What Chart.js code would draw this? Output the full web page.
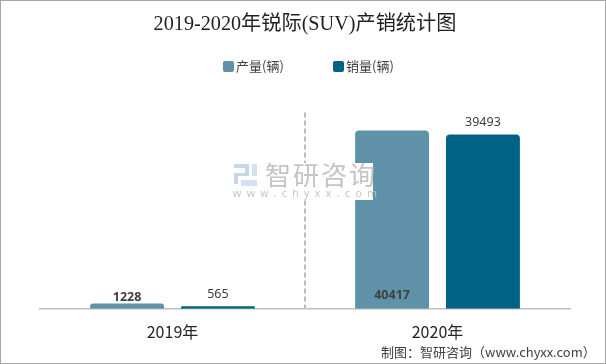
<!DOCTYPE html>
<html>
<head>
<meta charset="utf-8">
<style>
  html, body { margin: 0; padding: 0; background: #fff; }
  canvas { display: block; }
</style>
<script src="https://cdn.jsdelivr.net/npm/chart.js@4/dist/chart.umd.min.js"></script>
</head>
<body>
<canvas id="chart" width="606" height="364"></canvas>
<script>
const categories = ["2019年", "2020年"];
const productionValues = [1228, 40417];
const salesValues = [565, 39493];

const titleText = "2019-2020年锐际(SUV)产销统计图";
const sourceText = "制图：智研咨询（www.chyxx.com）";

const sansFont = "'Noto Sans CJK SC', 'Noto Sans', sans-serif";
const serifFont = "'Liberation Serif', 'Noto Sans CJK SC', serif";

const pagePlugin = {
    id: "pageFrame",
    beforeDraw: function(chart) {
        let ctx = chart.ctx;
        ctx.save();
        ctx.fillStyle = "#fff";
        ctx.fillRect(0, 0, chart.width, chart.height);

        // dashed divider between the two years
        let x = chart.scales.x.getPixelForValue(0.5);
        ctx.strokeStyle = "#a6a6a6";
        ctx.lineWidth = 1.5;
        ctx.setLineDash([5, 3]);
        ctx.beginPath();
        ctx.moveTo(x, chart.scales.y.getPixelForValue(44500));
        ctx.lineTo(x, chart.scales.y.getPixelForValue(0));
        ctx.stroke();
        ctx.restore();
    },
    afterDraw: function(chart) {
        let ctx = chart.ctx;
        ctx.save();
        ctx.strokeStyle = "#a6a6a6";
        ctx.lineWidth = 1;
        ctx.strokeRect(0.5, 0.5, chart.width - 1, chart.height - 1);

        // legend, the native one can't get the box this close to its text
        ctx.textAlign = "left";
        ctx.textBaseline = "middle";
        ctx.font = "13px " + sansFont;
        let legendX = [223, 333];
        chart.data.datasets.forEach(function(dataset, d) {
            ctx.fillStyle = dataset.backgroundColor;
            ctx.beginPath();
            ctx.roundRect(legendX[d], 61, 11, 11, 2);
            ctx.fill();
            ctx.fillStyle = "#404040";
            ctx.fillText(dataset.label, legendX[d] + 13, 66);
        });

        ctx.fillStyle = "#404040";
        ctx.font = "13px " + sansFont;
        ctx.fillText(sourceText, 381, 352);
        ctx.restore();
    }
};

const valueLabelPlugin = {
    id: "valueLabels",
    afterDatasetsDraw: function(chart) {
        let ctx = chart.ctx;
        ctx.save();
        ctx.textAlign = "center";
        ctx.textBaseline = "middle";
        chart.data.datasets.forEach(function(dataset, d) {
            chart.getDatasetMeta(d).data.forEach(function(bar, i) {
                let isProduction = d === 0;
                ctx.font = (isProduction ? "bold " : "") + "12.5px 'Noto Sans', sans-serif";
                ctx.fillStyle = "#404040";
                // the tall production bar has its label sitting inside, near the base
                let inside = isProduction && i === 1;
                let y = inside ? chart.scales.y.getPixelForValue(0) - 13 : bar.y - (isProduction ? 6 : 12);
                ctx.fillText(dataset.data[i], bar.x, y);
            });
        });
        ctx.restore();
    }
};

const watermarkPlugin = {
    id: "watermark",
    afterDatasetsDraw: function(chart) {
        let ctx = chart.ctx;
        ctx.save();
        ctx.fillStyle = "#fff";
        ctx.fillRect(233, 163, 140, 37);

        // logo blocks
        ctx.fillStyle = "#c9d6e8";
        ctx.fillRect(234, 164, 15, 4);
        ctx.fillRect(245, 168, 4, 5);
        ctx.fillRect(234, 173, 15, 3);
        ctx.fillRect(234, 176, 4, 8);
        ctx.fillStyle = "#cfe3f2";
        ctx.fillRect(252, 164, 5, 12);
        ctx.fillRect(241, 180, 16, 6);

        ctx.fillStyle = "#c4c4c4";
        ctx.textAlign = "left";
        ctx.textBaseline = "middle";
        ctx.font = "26px " + sansFont;
        ctx.letterSpacing = "2px";
        ctx.fillText("智研咨询", 265, 175);
        ctx.font = "10.5px 'Noto Sans', sans-serif";
        ctx.letterSpacing = "5.4px";
        ctx.fillText("www.chyxx.com", 233, 194);
        ctx.restore();
    }
};

let ctx = document.getElementById("chart");
let barChart = new Chart(ctx, {
    type: "bar",
    data: {
        labels: categories,
        datasets: [
            { label: "产量(辆)", data: productionValues, backgroundColor: "#5f91a9" },
            { label: "销量(辆)", data: salesValues, backgroundColor: "#006285" }
        ]
    },
    plugins: [pagePlugin, valueLabelPlugin, watermarkPlugin],
    options: {
        responsive: false,
        animation: false,
        layout: { padding: { left: 40, right: 36, top: 7, bottom: 8 } },
        datasets: {
            bar: {
                categoryPercentage: 0.686,
                barPercentage: 0.813,
                borderRadius: 4
            }
        },
        plugins: {
            title: {
                display: true,
                text: titleText,
                color: "#1f1f1f",
                font: { family: serifFont, size: 20.2, weight: "normal" },
                padding: { top: 6, bottom: 73 }
            },
            legend: { display: false },
            tooltip: { enabled: false }
        },
        scales: {
            x: {
                grid: { display: false, drawTicks: false },
                border: { color: "#bfbfbf", width: 1.5 },
                ticks: {
                    color: "#262626",
                    padding: 14,
                    font: { family: sansFont, size: 16 }
                }
            },
            y: {
                display: false,
                min: 0,
                max: 45000
            }
        }
    }
});
</script>
</body>
</html>
